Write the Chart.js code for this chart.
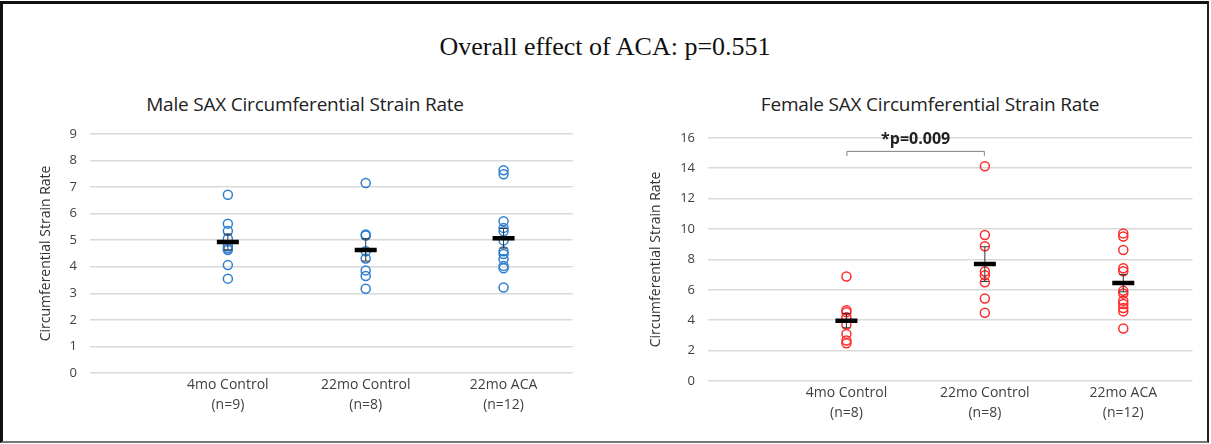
<!DOCTYPE html>
<html>
<head>
<meta charset="utf-8">
<script src="https://cdn.jsdelivr.net/npm/chart.js@4.4.1/dist/chart.umd.min.js"></script>
<style>
  html, body { margin: 0; padding: 0; background: #fff; }
  #page { position: relative; width: 1211px; height: 444px; overflow: hidden; }
  #frame { position: absolute; left: 0; top: 1px; width: 1204px; height: 437px;
           border-left: 3px solid #111; border-top: 3px solid #111; border-right: 2px solid #222;
           border-bottom: 2px solid #777; }
  .txt { position: absolute; white-space: nowrap; transform: translate(-50%, -50%); }
  #mainTitle { left: 605px; top: 47px; font-family: "Liberation Serif", "Times New Roman", serif; font-size: 26px; color: #111; }
  .sub { top: 104px; font-family: "Open Sans", "Noto Sans", sans-serif; font-size: 19px; color: #222; letter-spacing: -0.2px; }
  #maleTitle { left: 305px; }
  #femaleTitle { left: 930px; }
  canvas { position: absolute; }
</style>
</head>
<body>
<div id="page">
  <div id="frame"></div>
  <div id="mainTitle" class="txt">Overall effect of ACA: p=0.551</div>
  <div id="maleTitle" class="txt sub">Male SAX Circumferential Strain Rate</div>
  <div id="femaleTitle" class="txt sub">Female SAX Circumferential Strain Rate</div>
  <canvas id="male" style="left:30px; top:113px;" width="558" height="312"></canvas>
  <canvas id="female" style="left:640px; top:117px;" width="568" height="311"></canvas>
</div>
<script>
// groups on the x axis
var groupNames = ['4mo Control', '22mo Control', '22mo ACA'];
var maleN = [9, 8, 12];
var femaleN = [8, 8, 12];

// individual animals, male
var male4mo = [6.71, 5.62, 5.34, 5.05, 4.77, 4.69, 4.63, 4.06, 3.55];
var male22mo = [7.15, 5.21, 5.17, 4.58, 4.31, 3.86, 3.65, 3.17];
var maleACA = [7.63, 7.48, 5.71, 5.46, 5.33, 4.99, 4.58, 4.48, 4.29, 4.03, 3.94, 3.22];
var maleMean = [4.93, 4.63, 5.07];
var maleSem = [0.3, 0.42, 0.37];

// individual animals, female
var female4mo = [6.88, 4.66, 4.53, 4.2, 3.71, 3.1, 2.66, 2.48];
var female22mo = [14.13, 9.6, 8.86, 7.2, 6.95, 6.49, 5.43, 4.49];
var femaleACA = [9.71, 9.5, 8.62, 7.42, 7.22, 5.93, 5.76, 5.28, 5.06, 4.8, 4.58, 3.45];
var femaleMean = [3.97, 7.69, 6.44];
var femaleSem = [0.47, 1.14, 0.57];

var maleTicks = [0, 1, 2, 3, 4, 5, 6, 7, 8, 9];
var femaleTicks = [0, 2, 4, 6, 8, 10, 12, 14, 16];

// significance bracket on the female chart
var sigText = '*p=0.009';
var sigFrom = 1, sigTo = 2, sigY = 15.14, sigTickY = 14.81, sigTextY = 15.9;

function points(groups){
  var out = [];
  for (var g = 0; g < groups.length; g++){
    for (var i = 0; i < groups[g].length; i++){
      out.push({x: g + 1, y: groups[g][i]});
    }
  }
  return out;
}
function meanPts(mean){
  return mean.map(function(m, g){ return {x: g + 1, y: m}; });
}
function errPts(mean, sem){
  var out = [];
  for (var g = 0; g < mean.length; g++){
    out.push({x: g + 1, y: mean[g] - sem[g]});
    out.push({x: g + 1, y: mean[g] + sem[g]});
    out.push({x: g + 1, y: null});
  }
  return out;
}

var bracketPlugin = {
  id: 'bracket',
  afterDatasetsDraw: function(chart, args, opts){
    if (!opts.show) return;
    var xs = chart.scales.x, ys = chart.scales.y, c = chart.ctx;
    var x1 = xs.getPixelForValue(sigFrom), x2 = xs.getPixelForValue(sigTo);
    var y = ys.getPixelForValue(sigY), yt = ys.getPixelForValue(sigTickY);
    c.save();
    c.strokeStyle = '#7f7f7f';
    c.lineWidth = 1;
    c.beginPath();
    c.moveTo(x1 + 0.5, yt); c.lineTo(x1 + 0.5, y + 0.5); c.lineTo(x2 - 0.5, y + 0.5); c.lineTo(x2 - 0.5, yt);
    c.stroke();
    c.fillStyle = '#222';
    c.font = 'bold 16px "Open Sans", "Noto Sans", sans-serif';
    c.textAlign = 'center';
    c.textBaseline = 'middle';
    c.fillText(sigText, (x1 + x2) / 2, ys.getPixelForValue(sigTextY));
    c.restore();
  }
};

function makeChart(id, groups, mean, sem, nList, color, yTicks, yMax, axisW, axisH, showBracket){
  var labels = nList.map(function(n, g){ return [groupNames[g], '(n=' + n + ')']; });
  return new Chart(document.getElementById(id), {
    type: 'scatter',
    data: {
      datasets: [
        {
          label: 'mean',
          data: meanPts(mean),
          pointStyle: 'line',
          pointRadius: 11,
          pointBorderWidth: 4.5,
          borderColor: '#000',
          backgroundColor: '#000'
        },
        {
          label: 'sem',
          type: 'line',
          data: errPts(mean, sem),
          showLine: true,
          spanGaps: false,
          borderColor: '#333',
          borderWidth: 1,
          pointStyle: 'line',
          pointRadius: 4,
          pointBorderWidth: 1,
          pointBorderColor: '#333'
        },
        {
          label: 'animals',
          data: points(groups),
          pointStyle: 'circle',
          pointRadius: 4.5,
          pointBorderWidth: 1.5,
          borderColor: color,
          backgroundColor: 'rgba(255,255,255,0)'
        }
      ]
    },
    options: {
      responsive: false,
      animation: false,
      layout: { padding: { top: 0, right: 10, bottom: 0, left: 0 } },
      plugins: {
        legend: { display: false },
        tooltip: { enabled: false },
        bracket: { show: showBracket }
      },
      scales: {
        x: {
          type: 'linear',
          min: 0,
          max: 3.5,
          grid: { display: false, drawTicks: false },
          border: { display: false },
          afterBuildTicks: function(scale){
            scale.ticks = [{value: 1}, {value: 2}, {value: 3}];
          },
          afterFit: function(scale){ scale.height = axisH; },
          ticks: {
            autoSkip: false,
            maxRotation: 0,
            padding: 2,
            color: '#404040',
            font: { family: '"Open Sans", "Noto Sans", sans-serif', size: 14, lineHeight: 1.45 },
            callback: function(v){ return labels[v - 1] || ''; }
          }
        },
        y: {
          min: 0,
          max: yMax,
          afterBuildTicks: function(scale){
            scale.ticks = yTicks.map(function(v){ return {value: v}; });
          },
          afterFit: function(scale){ scale.width = axisW; },
          grid: { color: '#d9d9d9', lineWidth: 1.5, drawTicks: false },
          border: { display: false },
          ticks: {
            padding: 13,
            color: '#404040',
            font: { family: '"Open Sans", "Noto Sans", sans-serif', size: 13 }
          },
          title: {
            display: true,
            text: 'Circumferential Strain Rate',
            color: '#333',
            padding: { top: 8, bottom: 0 },
            font: { family: '"Open Sans", "Noto Sans", sans-serif', size: 14 }
          }
        }
      }
    },
    plugins: [bracketPlugin]
  });
}

makeChart('male', [male4mo, male22mo, maleACA], maleMean, maleSem, maleN, '#2e7fd0', maleTicks, 9, 60, 52, false);
makeChart('female', [female4mo, female22mo, femaleACA], femaleMean, femaleSem, femaleN, '#ff2b2b', femaleTicks, 16, 68, 47, true);
</script>
</body>
</html>
